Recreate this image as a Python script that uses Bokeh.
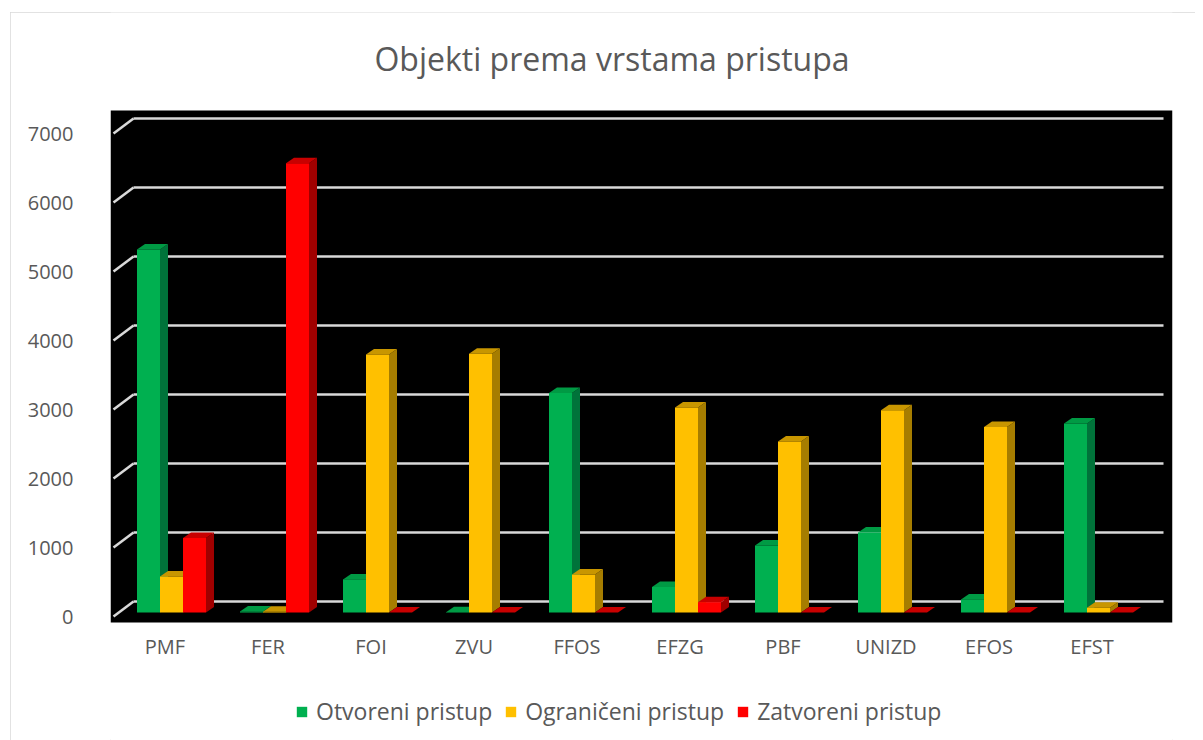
from bokeh.plotting import figure
from bokeh.models import FixedTicker, Legend, LegendItem, Range1d, BoxAnnotation, Label
from bokeh.embed import file_html
from bokeh.resources import INLINE

# ---------------- data ----------------
categories = ["PMF", "FER", "FOI", "ZVU", "FFOS", "EFZG", "PBF", "UNIZD", "EFOS", "EFST"]
otvoreni = [5260, 15, 480, 5, 3180, 370, 970, 1160, 190, 2740]
ograniceni = [520, 10, 3740, 3750, 550, 2970, 2480, 2930, 2690, 70]
zatvoreni = [1080, 6510, 0, 0, 0, 150, 0, 0, 0, 0]
series_names = ["Otvoreni pristup", "Ograničeni pristup", "Zatvoreni pristup"]
y_ticks = [0, 1000, 2000, 3000, 4000, 5000, 6000, 7000]
title_text = "Objekti prema vrstama pristupa"

# ---------------- styling / geometry ----------------
front_colors = ["#00B050", "#FFC000", "#FF0000"]
top_colors = ["#009A44", "#C89600", "#C80000"]
side_colors = ["#00733A", "#A67D00", "#A00000"]
TEXT = "#595959"
FONT = "Open Sans"

PX_PER_CAT = 103.0          # pixels per category unit
PX_PER_VAL = 69.0 / 1000.0  # pixels per value unit
WDX = 20 / PX_PER_CAT       # depth of back wall (x)
WDY = 15 / PX_PER_VAL       # depth of back wall (y)
PDX = 6.5 / PX_PER_CAT      # bar plane offset
PDY = 4 / PX_PER_VAL
BDX = 8 / PX_PER_CAT        # bar depth
BDY = 5.5 / PX_PER_VAL
BW = 23 / PX_PER_CAT        # bar width

OX, OY = 10, 12             # chart box origin on page
W, H = 1185, 728
ML = 110 - OX
FW = 1062
FH = H                      # frame spans the full canvas height
ZERO_FROM_TOP = 616 - OY    # front zero line, px below frame top
PLOT_TOP_PX = 506           # black area top, px above the zero line
PLOT_BOTTOM_PX = 6          # black area bottom, px below the zero line
TITLE_PX = 558              # title centre, px above the zero line

p = figure(width=W, height=H, output_backend="svg", toolbar_location=None,
           x_range=Range1d(-3 / PX_PER_CAT, (FW - 3) / PX_PER_CAT),
           y_range=Range1d(-(FH - ZERO_FROM_TOP) / PX_PER_VAL, ZERO_FROM_TOP / PX_PER_VAL),
           min_border_left=ML, min_border_top=0,
           min_border_right=W - ML - FW, min_border_bottom=0)
p.margin = (OY, 0, 0, OX)
p.styles = {"outline": "1px solid #D9D9D9", "outline-offset": "-1px"}
p.background_fill_color = "white"
p.border_fill_color = "white"
p.outline_line_color = None
p.xgrid.visible = False
p.ygrid.visible = False

plot_bottom = -PLOT_BOTTOM_PX / PX_PER_VAL
plot_top = PLOT_TOP_PX / PX_PER_VAL
p.add_layout(BoxAnnotation(bottom=plot_bottom, top=plot_top, fill_color="black", fill_alpha=1,
                           line_color=None, level="underlay"))

# gridlines (3D: diagonal from front + back wall line)
n = len(categories)
p.segment(x0=[WDX] * len(y_ticks), y0=[v + WDY for v in y_ticks],
          x1=[n + WDX] * len(y_ticks), y1=[v + WDY for v in y_ticks],
          line_color="#D9D9D9", line_width=2.6)
p.segment(x0=[0] * len(y_ticks), y0=y_ticks,
          x1=[WDX] * len(y_ticks), y1=[v + WDY for v in y_ticks],
          line_color="#D9D9D9", line_width=2.6)

# bars
series = [otvoreni, ograniceni, zatvoreni]
front_renderers = []
for s, vals in enumerate(series):
    L, R, B, T = [], [], [], []
    for i, v in enumerate(vals):
        cx = i + 0.5 + (s - 1) * BW + PDX
        L.append(cx - BW / 2)
        R.append(cx + BW / 2)
        B.append(PDY)
        T.append(v + PDY)
    side_xs = [[r, r + BDX, r + BDX, r] for r in R]
    side_ys = [[b, b + BDY, t + BDY, t] for b, t in zip(B, T)]
    top_xs = [[l, l + BDX, r + BDX, r] for l, r in zip(L, R)]
    top_ys = [[t, t + BDY, t + BDY, t] for t in T]
    p.patches(side_xs, side_ys, fill_color=side_colors[s], line_color=None)
    p.patches(top_xs, top_ys, fill_color=top_colors[s], line_color=None)
    fr = p.quad(left=L, right=R, bottom=B, top=T, fill_color=front_colors[s], line_color=None)
    front_renderers.append(fr)

# axes
p.yaxis.ticker = FixedTicker(ticks=y_ticks)
p.yaxis.axis_line_color = None
p.yaxis.major_tick_line_color = None
p.yaxis.minor_tick_line_color = None
p.yaxis.major_label_text_font = FONT
p.yaxis.major_label_text_font_size = "20px"
p.yaxis.major_label_text_color = TEXT
p.yaxis.major_label_standoff = 31

p.xaxis.fixed_location = plot_bottom
p.xaxis.ticker = FixedTicker(ticks=[i + 0.5 for i in range(n)])
p.xaxis.major_label_overrides = {i + 0.5: c for i, c in enumerate(categories)}
p.xaxis.axis_line_color = None
p.xaxis.major_tick_line_color = None
p.xaxis.minor_tick_line_color = None
p.xaxis.major_label_text_font = FONT
p.xaxis.major_label_text_font_size = "20px"
p.xaxis.major_label_text_color = TEXT
p.xaxis.major_label_standoff = 4

# title (drawn inside the full-height frame)
p.add_layout(Label(x=(611.5 - 113) / PX_PER_CAT, y=TITLE_PX / PX_PER_VAL, text=title_text,
                   text_align="center", text_baseline="middle",
                   text_font=FONT, text_font_size="32px", text_color=TEXT))

# legend
legend = Legend(items=[LegendItem(label=series_names[s], renderers=[front_renderers[s]]) for s in range(3)],
                orientation="horizontal", location=(185, 13),
                glyph_width=13, glyph_height=13, label_standoff=8, spacing=12,
                padding=0, margin=0, border_line_color=None, background_fill_alpha=0,
                label_text_font=FONT, label_text_font_size="23px", label_text_color=TEXT)
p.add_layout(legend)

open("out.html", "w").write(file_html(p, INLINE))
